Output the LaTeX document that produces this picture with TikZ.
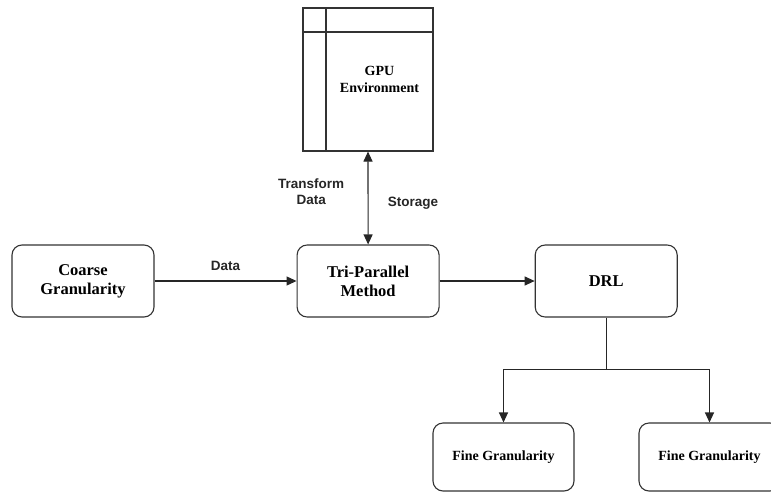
\documentclass[tikz,border=0pt]{standalone}
\usepackage{fontspec}
\setmainfont{Liberation Serif}
\newfontfamily\labelfont{Liberation Sans}
\usetikzlibrary{arrows.meta,positioning}

\begin{document}
\begin{tikzpicture}[x=1pt, y=1pt, line width=1.1pt, >={Triangle[length=10pt,width=9pt]},
    box/.style={draw=black!80, rounded corners=10pt, minimum width=142pt, minimum height=72pt,
      align=center, font=\fontsize{16.5}{19}\selectfont\bfseries},
    smallbox/.style={box, minimum width=141pt, minimum height=68pt, font=\fontsize{14}{16}\selectfont\bfseries},
    lbl/.style={align=center, font=\labelfont\fontsize{13.5}{16}\selectfont\bfseries, text=black!85}]
    \useasboundingbox (0,0) rectangle (771,-493);

    \node[box] (coarse) at (83,-281) {Coarse\\Granularity};
    \node[box] (tri) [right=142pt of coarse] {Tri-Parallel\\Method};
    \node[box] (drl) [right=95pt of tri] {DRL};

    \node[smallbox] (fine1) at (503.5,-457) {Fine Granularity};
    \node[smallbox] (fine2) at (709.5,-457) {Fine Granularity};

    % GPU box with header row and side column
    \node[draw=black!80, minimum width=130pt, minimum height=143pt,
      path picture={
        \draw[black!80] ([yshift=-24pt]path picture bounding box.north west) -- ([yshift=-24pt]path picture bounding box.north east);
        \draw[black!80] ([xshift=23pt]path picture bounding box.north west) -- ([xshift=23pt]path picture bounding box.south west);
      }] (gpu) at (368,-79.5) {};
    \node[align=center, font=\fontsize{14}{17}\selectfont\bfseries] (gputext) at ([xshift=11.5pt]gpu.center) {GPU\\Environment};

    \draw[<->, draw=black!85] (gpu.south) -- node[lbl, pos=0.43, left=20pt] {Transform\\Data}
      node[lbl, pos=0.56, right=16pt] {Storage} (tri.north);
    \draw[->, draw=black!85] (coarse) -- node[lbl, above=6pt] {Data} (tri);
    \draw[->, draw=black!85] (tri) -- (drl);

    \draw[draw=black!85] (drl.south) -- ++(0,-52) coordinate (split);
    \draw[->, draw=black!85] (split) -| (fine1.north);
    \draw[->, draw=black!85] (split) -| (fine2.north);
\end{tikzpicture}
\end{document}
